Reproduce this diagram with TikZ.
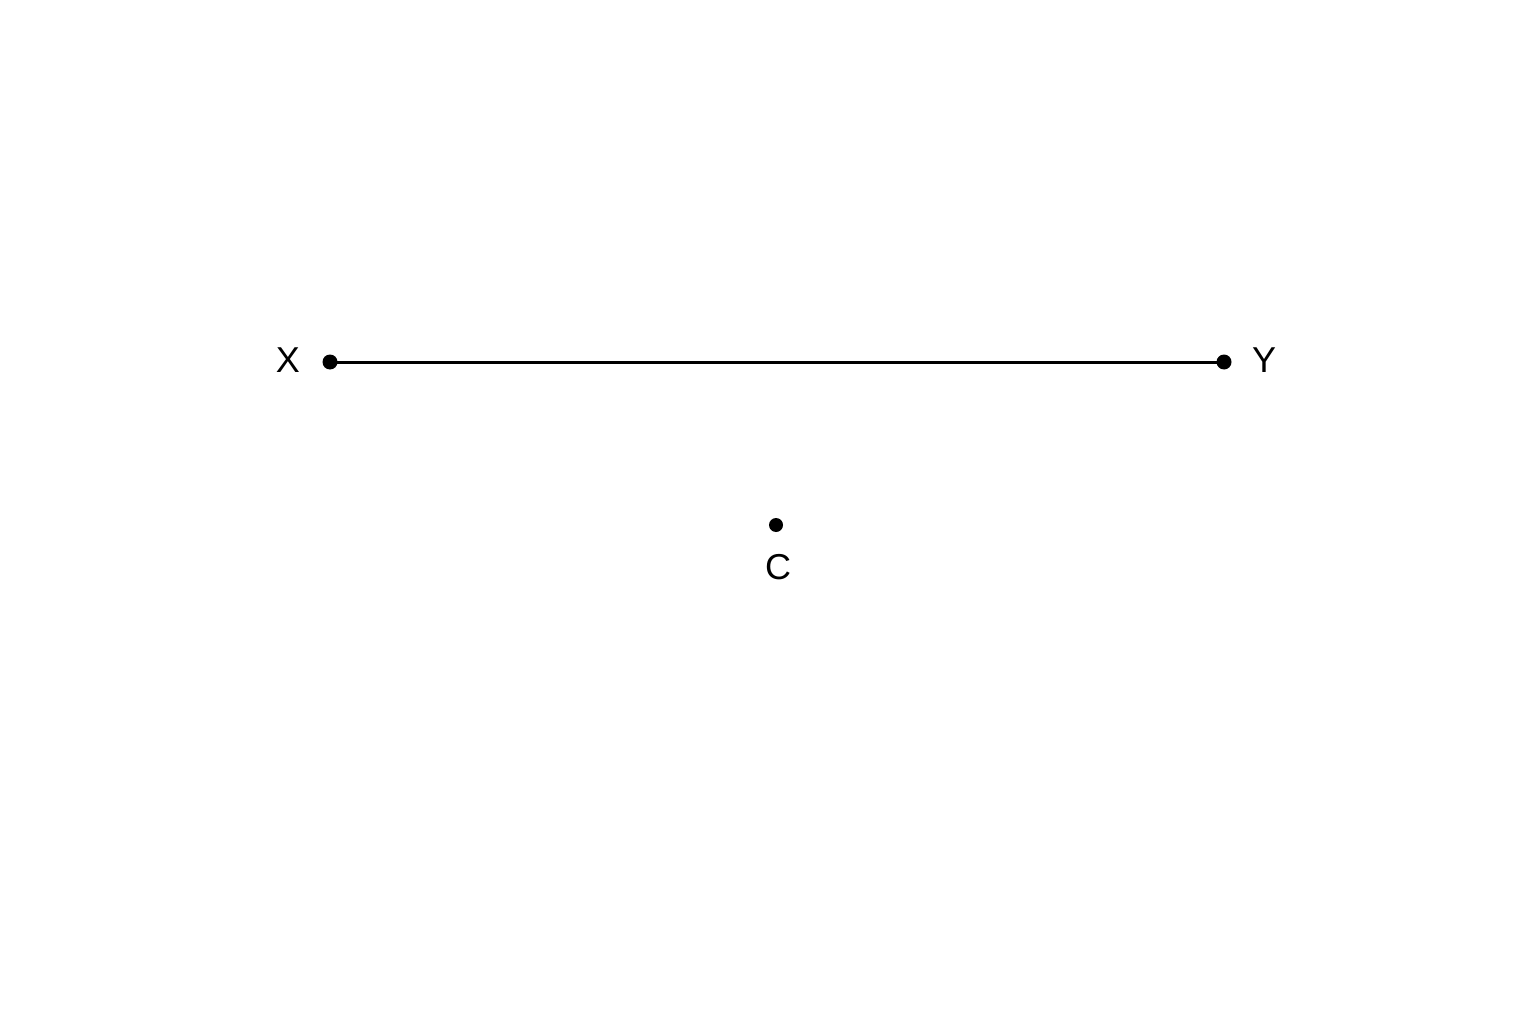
\documentclass[tikz,border=0pt]{standalone}
\usepackage{fontspec}
\setmainfont{Liberation Sans}
\begin{document}
\begin{tikzpicture}[x=1pt,y=-1pt,
  pt/.style={circle,fill=black,inner sep=0pt,minimum size=15pt},
  lbl/.style={font=\fontsize{36}{40}\selectfont,inner sep=0pt}]
\useasboundingbox (0,0) rectangle (1536,1024);
\fill[white] (0,0) rectangle (1536,1024);
\node[pt] (X) at (330,362) {};
\node[pt] (Y) at (1224,362) {};
\node[pt,minimum size=14pt] (C) at (776,525) {};
\draw[line width=3pt] (X.center) -- (Y.center);
\node[lbl] (lx) at (288,360) {X};
\node[lbl] (ly) at (1264,360) {Y};
\node[lbl] (lc) at (778,567) {C};
\end{tikzpicture}
\end{document}
